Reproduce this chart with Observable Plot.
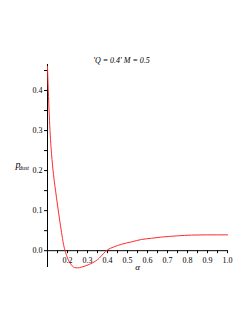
<!DOCTYPE html>
<html>
<head>
<meta charset="utf-8">
<script src="https://cdn.jsdelivr.net/npm/d3@7"></script>
<script src="https://cdn.jsdelivr.net/npm/@observablehq/plot@0.6"></script>
<style>
  html, body { margin: 0; padding: 0; background: #fff; }
</style>
</head>
<body>
<div id="chart"></div>
<script>
const alpha = [0.1, 0.105, 0.11, 0.115, 0.12, 0.13, 0.14, 0.15, 0.16, 0.17, 0.18, 0.19, 0.2, 0.21, 0.22, 0.235, 0.25, 0.27, 0.29, 0.31, 0.34, 0.36, 0.38, 0.4, 0.43, 0.47, 0.52, 0.57, 0.62, 0.67, 0.75, 0.82, 0.9, 1.0];
const pdust = [0.46, 0.385, 0.325, 0.278, 0.243, 0.19, 0.151, 0.114, 0.079, 0.046, 0.016, -0.004, -0.018, -0.029, -0.036, -0.042, -0.043, -0.041, -0.038, -0.034, -0.026, -0.018, -0.007, 0.002, 0.009, 0.016, 0.022, 0.028, 0.031, 0.034, 0.037, 0.039, 0.0395, 0.0395];
const xTickLabels = [0.2, 0.3, 0.4, 0.5, 0.6, 0.7, 0.8, 0.9, 1.0];
const xTickMarks = [0.15, 0.2, 0.25, 0.3, 0.35, 0.4, 0.45, 0.5, 0.55, 0.6, 0.65, 0.7, 0.75, 0.8, 0.85, 0.9, 0.95, 1.0];
const yTickLabels = [0.0, 0.1, 0.2, 0.3, 0.4];
const yTickMarks = [0.0, 0.05, 0.1, 0.15, 0.2, 0.25, 0.3, 0.35, 0.4, 0.45];
const titleText = "'Q = 0.4' M = 0.5";

const W = 249, H = 323;
const mL = 47, mR = 22, mT = 64, mB = 56;
const xDom = [0.1, 1.0], yDom = [-0.042, 0.465];
const pxX = (W - mL - mR) / (xDom[1] - xDom[0]);
const pxY = (H - mT - mB) / (yDom[1] - yDom[0]);
const tickLen = 3;
const data = alpha.map((a, i) => ({a, p: pdust[i]}));
const serif = "Times New Roman, Liberation Serif, serif";

const chart = Plot.plot({
  width: W, height: H,
  marginLeft: mL, marginRight: mR, marginTop: mT, marginBottom: mB,
  style: {fontFamily: serif, background: "#fff"},
  x: {domain: xDom, axis: null},
  y: {domain: yDom, axis: null},
  marks: [
    Plot.ruleY([0], {x1: xDom[0], x2: xDom[1], stroke: "#000", strokeWidth: 1}),
    Plot.ruleX([xDom[0]], {y1: yDom[0], y2: yDom[1], stroke: "#000", strokeWidth: 1}),
    Plot.ruleX(xTickMarks, {x: d => d, y1: 0, y2: -tickLen / pxY, stroke: "#000", strokeWidth: 1}),
    Plot.ruleY(yTickMarks, {y: d => d, x1: xDom[0], x2: xDom[0] - tickLen / pxX, stroke: "#000", strokeWidth: 1}),
    Plot.text(xTickLabels, {x: d => d, y: 0, text: d => d.toFixed(1), dy: 10, fontSize: 8, fontFamily: serif, fill: "#000"}),
    Plot.text(yTickLabels, {x: xDom[0], y: d => d, text: d => d.toFixed(1), dx: -5, textAnchor: "end", fontSize: 8, fontFamily: serif, fill: "#000"}),
    Plot.line(data, {x: "a", y: "p", stroke: "#ff2a2a", strokeWidth: 1, curve: "monotone-x"}),
    Plot.text([titleText], {frameAnchor: "top", dx: -16, dy: -7, text: d => d, fontSize: 8, fontFamily: serif, fontStyle: "italic", fill: "#000"}),
    Plot.text(["α"], {frameAnchor: "bottom", dy: 2, text: d => d, fontSize: 9, fontFamily: serif, fontStyle: "italic", fill: "#000"}),
    Plot.text(["p"], {frameAnchor: "left", dx: -32, dy: -1, text: d => d, fontSize: 10, fontFamily: serif, fontStyle: "italic", fill: "#000"}),
    Plot.text(["dust"], {frameAnchor: "left", dx: -28.5, dy: 2, textAnchor: "start", text: d => d, fontSize: 6, fontFamily: serif, fontStyle: "italic", fill: "#000"})
  ]
});
document.getElementById("chart").appendChild(chart);
</script>
</body>
</html>
